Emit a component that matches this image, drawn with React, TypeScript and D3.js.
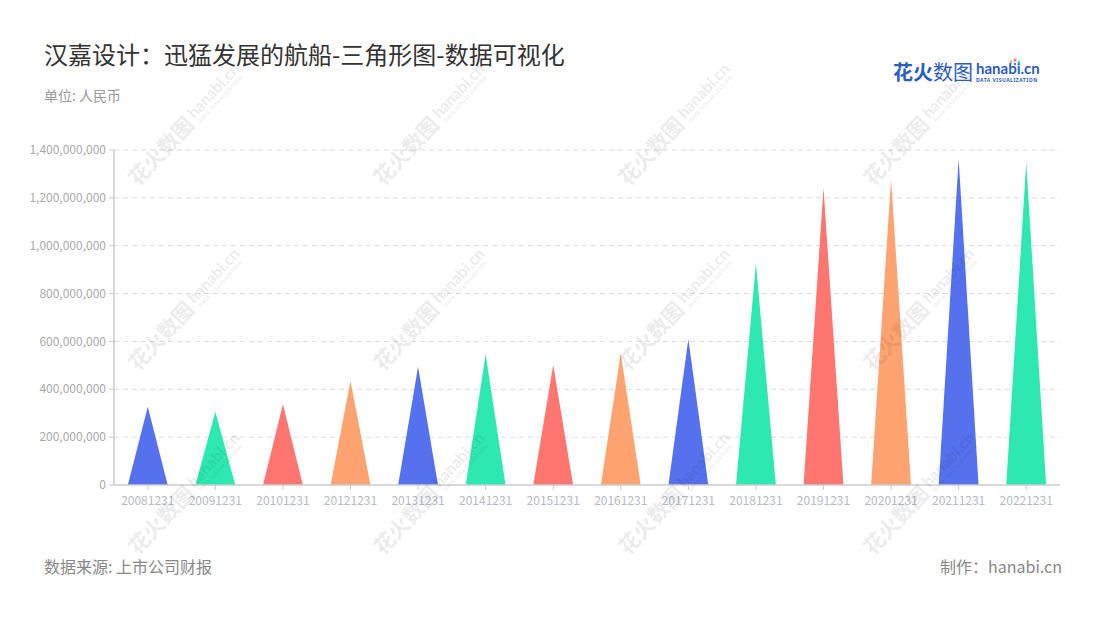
import React from 'react';
import * as d3 from 'd3';

const categories = ['20081231','20091231','20101231','20121231','20131231','20141231','20151231','20161231','20171231','20181231','20191231','20201231','20211231','20221231'];
const values = [327e6, 306e6, 337e6, 435e6, 494e6, 546e6, 501e6, 550e6, 610e6, 926e6, 1242e6, 1279e6, 1362e6, 1349e6];
const palette = ['#5571ee', '#2ee8b1', '#ff7671', '#ffa371'];
const yTicks = [0, 2e8, 4e8, 6e8, 8e8, 1e9, 1.2e9, 1.4e9];
const title = '汉嘉设计：迅猛发展的航船-三角形图-数据可视化';
const subtitle = '单位: 人民币';
const source = '数据来源: 上市公司财报';
const credit = '制作：hanabi.cn';
const wmCols = [184, 429, 674, 919];
const wmRows = [126, 311, 495];

const W = 1100, H = 620;
const left = 114, right = 1060, top = 150, bottom = 485;
const FONT = '"Noto Sans CJK SC", "Noto Sans", sans-serif';

export default function App() {
  const x = d3.scaleBand<string>().domain(categories).range([left, right]).padding(0);
  const y = d3.scaleLinear().domain([0, 1.4e9]).range([bottom, top]);
  const fmt = d3.format(',');
  const bw = x.bandwidth() * 0.59;
  const tri = (c: string, v: number) => {
    const cx = (x(c) as number) + x.bandwidth() / 2;
    const p = d3.path();
    p.moveTo(cx - bw / 2, y(0));
    p.lineTo(cx, y(v));
    p.lineTo(cx + bw / 2, y(0));
    p.closePath();
    return p.toString();
  };
  return (
    <svg width={W} height={H} style={{ display: 'block', position: 'absolute', left: 0, top: 0, background: '#fff' }} fontFamily={FONT}>
      <rect x={0} y={0} width={W} height={H} fill="#fff" />
      <text x={44} y={64} fontSize={24} fill="#333">{title}</text>
      <text x={44} y={101} fontSize={14} fill="#999">{subtitle}</text>
      {/* logo */}
      <g>
        <text x={893} y={80} fontSize={20} fill="#2d5cc4"><tspan fontWeight={700}>花火</tspan><tspan>数图</tspan></text>
        <text x={976} y={74} fontSize={15} fontWeight={700} fill="#2d5cc4" fontFamily='"Lato", "Noto Sans", sans-serif'>hanabi.cn</text>
        <text x={976} y={81.5} fontSize={5} fontWeight={700} fill="#2d5cc4" letterSpacing={0.5} fontFamily='"Noto Sans", sans-serif'>DATA VISUALIZATION</text>
        <circle cx={1015} cy={60} r={1.6} fill="#ff7671" />
        <circle cx={1019} cy={62} r={1.4} fill="#2ee8b1" />
        <circle cx={1011} cy={62} r={1.4} fill="#ffa371" />
        <circle cx={1015} cy={64} r={1.2} fill="#5571ee" />
      </g>
      {/* grid */}
      {yTicks.slice(1).map(t => (
        <line key={'g' + t} x1={left} x2={right} y1={y(t)} y2={y(t)} stroke="#dcdcdc" strokeDasharray="5,4" />
      ))}
      {/* y axis */}
      <line x1={left} x2={left} y1={top} y2={bottom} stroke="#ccc" strokeWidth={1.5} />
      {yTicks.map(t => (
        <g key={'y' + t}>
          <line x1={left - 5} x2={left} y1={y(t)} y2={y(t)} stroke="#ccc" />
          <text x={left - 8} y={y(t)} dy="0.35em" textAnchor="end" fontSize={12} fill="#aaa">{fmt(t)}</text>
        </g>
      ))}
      {/* bars */}
      {categories.map((c, i) => (
        <path key={c} d={tri(c, values[i])} fill={palette[i % palette.length]} />
      ))}
      {/* x axis */}
      <line x1={left} x2={right} y1={bottom} y2={bottom} stroke="#ccc" strokeWidth={1.5} />
      {categories.map(c => {
        const cx = (x(c) as number) + x.bandwidth() / 2;
        return (
          <g key={'x' + c}>
            <line x1={cx} x2={cx} y1={bottom} y2={bottom + 5} stroke="#ccc" />
            <text x={cx} y={505} textAnchor="middle" fontSize={12} fill="#b6bac6">{c}</text>
          </g>
        );
      })}
      {/* watermarks */}
      {wmRows.map(r => wmCols.map(c => (
        <g key={'w' + r + '-' + c} transform={`translate(${c},${r}) rotate(-47)`} opacity={0.07} fill="#000">
          <text x={-76} y={8} fontSize={21} fontWeight={700}>花火数图</text>
          <text x={12} y={3} fontSize={16} fontWeight={700} fontFamily='"Lato", sans-serif'>hanabi.cn</text>
          <text x={14} y={10} fontSize={5} fontWeight={700} letterSpacing={0.5} fontFamily='"Noto Sans", sans-serif'>DATA VISUALIZATION</text>
        </g>
      )))}
      <text x={44} y={573} fontSize={16} fill="#888">{source}</text>
      <text x={1062} y={573} fontSize={16} fill="#888" textAnchor="end">{credit}</text>
    </svg>
  );
}
